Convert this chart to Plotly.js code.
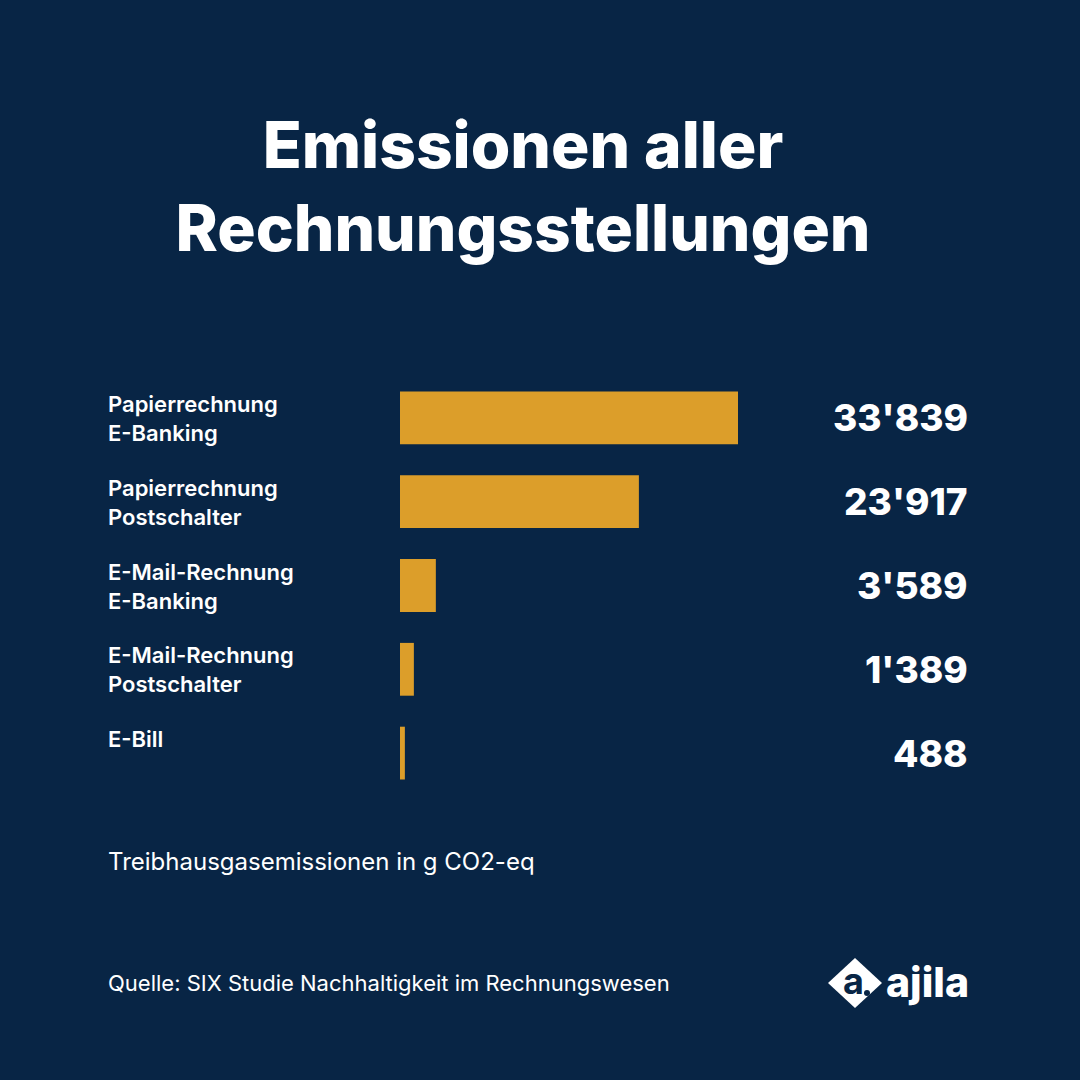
<!DOCTYPE html>
<html>
<head>
<meta charset="utf-8">
<script src="https://cdn.plot.ly/plotly-3.0.1.min.js"></script>
<style>
html,body{margin:0;padding:0;background:#082545;}
#chart{width:1080px;height:1080px;}
</style>
</head>
<body>
<div id="chart"></div>
<script>
// ---- Data ----
const categories = ["Papierrechnung<br>E-Banking", "Papierrechnung<br>Postschalter", "E-Mail-Rechnung<br>E-Banking", "E-Mail-Rechnung<br>Postschalter", "E-Bill"];
const values = [33839, 23917, 3589, 1389, 488];
const valueLabels = ["33'839", "23'917", "3'589", "1'389", "488"];
const titleText = "Emissionen aller<br>Rechnungsstellungen";
const unitText = "Treibhausgasemissionen in g CO2-eq";
const sourceText = "Quelle: SIX Studie Nachhaltigkeit im Rechnungswesen";
const brandText = "ajila";

// ---- Layout geometry (pixels) ----
const W = 1080, H = 1080;
const plotL = 400, plotR = 738, plotT = 376, plotB = 795;
const px2x = p => (p - plotL) / (plotR - plotL);
const px2y = p => (plotB - p) / (plotB - plotT);

const bg = "#082545";
const barColor = "#DC9E2A";
const font = "Inter, 'Open Sans', sans-serif";

const annotations = [];
categories.forEach((c, i) => {
  annotations.push({
    xref: "paper", yref: "y", x: px2x(106), y: c, xanchor: "left", yanchor: "top",
    yshift: 29, align: "left", showarrow: false, text: c,
    font: {family: font, size: 22, color: "#ffffff", weight: 600}
  });
  annotations.push({
    xref: "paper", yref: "y", x: px2x(970), y: c, xanchor: "right", yanchor: "middle",
    showarrow: false, text: valueLabels[i],
    font: {family: font, size: 37, color: "#ffffff", weight: 800}
  });
});
annotations.push({
  xref: "paper", yref: "paper", x: px2x(106), y: px2y(861), xanchor: "left", yanchor: "middle",
  showarrow: false, text: unitText, font: {family: font, size: 24, color: "#ffffff", weight: 400}
});
annotations.push({
  xref: "paper", yref: "paper", x: px2x(106), y: px2y(983), xanchor: "left", yanchor: "middle",
  showarrow: false, text: sourceText, font: {family: font, size: 22, color: "#ffffff", weight: 400}
});
// logo
annotations.push({
  xref: "paper", yref: "paper", x: px2x(853), y: px2y(981), xanchor: "center", yanchor: "middle",
  showarrow: false, text: "a", font: {family: font, size: 36, color: bg, weight: 700}
});
annotations.push({
  xref: "paper", yref: "paper", x: px2x(971), y: px2y(982), xanchor: "right", yanchor: "middle",
  showarrow: false, text: brandText, font: {family: font, size: 41, color: "#ffffff", weight: 800}
});

const dx = px2x, dy = px2y;
const diamond = `M ${dx(828)} ${dy(983)} L ${dx(855)} ${dy(958)} L ${dx(882)} ${dy(983)} L ${dx(855)} ${dy(1008)} Z`;

const shapes = [
  {type: "path", xref: "paper", yref: "paper", path: diamond, fillcolor: "#ffffff", line: {width: 0}},
  {type: "circle", xref: "paper", yref: "paper", x0: dx(864), x1: dx(870), y0: dy(996), y1: dy(990), fillcolor: bg, line: {width: 0}}
];

const trace = {
  type: "bar", orientation: "h", y: categories, x: values,
  marker: {color: barColor, line: {width: 0}}, width: 0.63,
  hoverinfo: "skip"
};

const layout = {
  width: W, height: H,
  paper_bgcolor: bg, plot_bgcolor: bg,
  margin: {l: plotL, r: W - plotR, t: plotT, b: H - plotB, pad: 0},
  showlegend: false,
  title: {
    text: titleText, x: 523 / W, xanchor: "center", y: 1 - 168 / H, yanchor: "middle",
    xref: "container", yref: "container",
    font: {family: font, size: 64, color: "#ffffff", weight: 800}
  },
  xaxis: {range: [0, values[0]], visible: false, fixedrange: true},
  yaxis: {autorange: "reversed", visible: false, fixedrange: true},
  annotations: annotations,
  shapes: shapes
};

Plotly.newPlot("chart", [trace], layout, {displayModeBar: false, staticPlot: true});
</script>
</body>
</html>
